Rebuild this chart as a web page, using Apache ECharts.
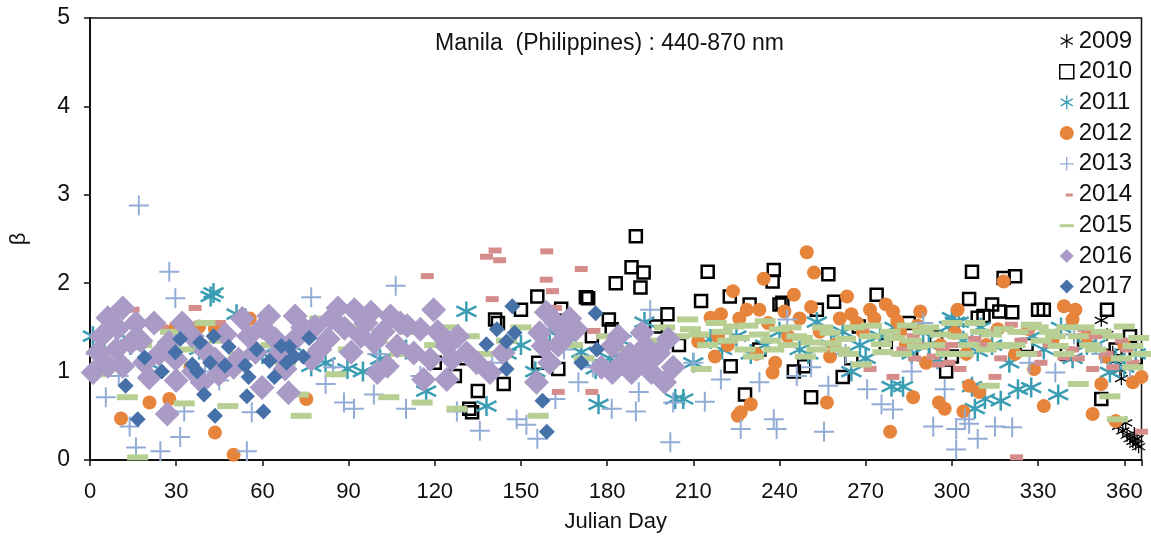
<!DOCTYPE html>
<html lang="en">

<head>
  <meta charset="utf-8">
  <title>Manila beta scatter</title>
  <style>
    html, body { margin: 0; padding: 0; background: #fff; }
    .box { width: 1151px; height: 538px; }
  </style>
</head>

<body>
  <script type="text/javascript" src="https://cdn.jsdelivr.net/npm/echarts@6/dist/echarts.min.js"></script>

  <div class="box"></div>

  <script>
    // [julian day, beta] per year
    var d2009 = [[352, 1.58], [354, 1.42], [356, 1.22], [357, 1.12], [358.5, 1.02], [359, 0.92],
      [358, 0.38], [359.5, 0.33], [361, 0.28], [362, 0.24], [363, 0.21], [364, 0.18], [365, 0.15], [364.5, 0.24], [363.5, 0.3], [360.5, 0.42]];

    var d2010 = [[131, 1.15], [132, 0.58], [133, 0.54], [135, 0.78], [144, 0.86], [141, 1.59], [142, 1.55], [150, 1.7],
      [155.7, 1.85], [156, 1.1], [163, 1.03], [164, 1.71], [172.6, 1.84], [173.4, 1.83], [174.7, 1.4], [180.6, 1.59],
      [181.6, 1.48], [183, 2.0], [188.5, 2.18], [190, 2.53], [191.6, 1.95], [192.7, 2.12], [197, 1.51], [201, 1.65],
      [212.7, 1.8], [215, 2.13], [222.7, 1.85], [223, 1.06], [228, 0.74], [229.6, 1.76], [237.6, 2.02], [238, 2.15],
      [240, 1.76], [241, 1.78], [248.6, 1.06], [251, 0.71], [253, 1.7], [257, 2.1], [259, 1.79], [262, 0.94],
      [267.6, 1.51], [273.8, 1.87], [285, 1.55], [294.5, 1.39], [300, 1.17], [306, 1.82], [307, 2.13], [309, 1.61],
      [311, 1.63], [314, 1.76], [316.5, 1.68], [318, 2.06], [321, 1.67], [322, 2.08], [330, 1.7], [332, 1.7],
      [352, 0.69], [354, 1.7], [362, 1.4], [120, 1.1], [127, 0.95], [205, 1.3], [233, 1.25], [245, 1.0], [265, 1.15],
      [277, 1.3], [290, 1.2], [298, 1.0], [326, 1.3], [340, 1.2], [346, 1.35], [357, 1.25], [364, 1.15]];

    var d2011 = [[1, 1.4], [9, 1.44], [42, 1.85], [43, 1.89], [51, 1.65], [77, 1.06], [89.6, 1.03], [101, 1.14],
      [117, 0.78], [131, 1.68], [138, 0.61], [171, 1.22], [176, 1.03], [177, 0.63], [193, 1.56], [203.7, 0.69],
      [206.5, 0.69], [216, 1.37], [253, 1.56], [265, 1.0], [279, 0.83], [283, 0.83], [290, 1.44], [295, 1.14],
      [299, 1.51], [300, 1.61], [301, 1.56], [302.4, 1.56], [307, 0.83], [308, 0.58], [309, 1.23], [311.5, 0.69],
      [317, 0.67], [323, 0.8], [327.6, 0.82], [337, 0.74], [355, 0.99], [5, 1.25], [14, 1.3], [20, 1.1], [30, 1.45],
      [38, 1.25], [60, 1.2], [70, 1.3], [82, 1.1], [95, 1.0], [110, 1.25], [125, 1.35], [145, 1.2], [150, 1.3],
      [160, 1.45], [185, 1.35], [210, 1.1], [220, 1.25], [230, 1.2], [240, 1.45], [247, 1.25], [258, 1.3],
      [270, 1.15], [275, 1.4], [286, 1.2], [314, 1.3], [320, 1.1], [332, 1.25], [342, 1.15], [347, 1.3],
      [360, 1.05], [364, 1.2], [225, 1.4], [235, 1.3], [250, 1.2], [262, 1.45], [268, 1.3], [280, 1.5], [292, 1.3],
      [304, 1.35], [310, 1.5], [328, 1.4], [338, 1.5], [350, 1.3], [357, 1.15], [166, 1.4], [181, 1.15], [155, 1.0],
      [195, 1.25]];

    var d2012 = [[10.8, 0.47], [20.7, 0.65], [27.6, 0.69], [29.7, 1.5], [38, 1.51], [43.5, 0.31], [43.5, 1.48],
      [50, 0.06], [55.6, 1.6], [75.3, 0.69], [25, 1.2], [35, 1.05], [211.7, 1.34], [216, 1.61], [217.5, 1.17],
      [218.6, 1.4], [219.6, 1.65], [223.8, 1.91], [225.5, 0.5], [226.5, 0.54], [228.6, 1.7], [230, 0.63],
      [233, 1.7], [234.5, 2.05], [237.6, 0.99], [238.5, 1.1], [241.7, 1.68], [245, 1.87], [249.5, 2.35], [251, 1.73],
      [252, 2.12], [256.5, 0.65], [257.6, 1.17], [263.5, 1.85], [265, 1.65], [271.5, 1.7], [277, 1.76], [278.5, 0.32],
      [279.5, 1.68], [281, 1.57], [286.5, 0.71], [289, 1.68], [295.5, 0.65], [297.5, 0.58], [301, 1.44], [302, 1.7],
      [304, 0.55], [306, 0.84], [309.5, 0.77], [316, 1.48], [318, 2.02], [326.6, 1.48], [328.6, 1.03], [332, 0.61],
      [339, 1.74], [342, 1.59], [343, 1.7], [349, 0.52], [352, 0.86], [353.5, 1.17], [357, 0.44], [363, 0.88],
      [366, 0.94], [222, 1.3], [232, 1.2], [243, 1.4], [259, 1.3], [269, 1.45], [284, 1.3], [291, 1.1], [312, 1.3],
      [322, 1.2], [335, 1.35], [347, 1.4], [360, 1.3], [226, 1.6], [236, 1.55], [247, 1.6], [254, 1.45], [261, 1.6],
      [267, 1.55], [273, 1.6], [282, 1.45], [288, 1.52], [296, 1.3], [305, 1.2]];

    var d2013 = [[5.5, 0.71], [13.8, 0.38], [16, 0.14], [17, 2.88], [24.5, 0.1], [27.6, 2.13], [29.7, 1.83],
      [31.4, 0.26], [32.8, 0.55], [54.6, 0.1], [56.3, 0.54], [77, 1.84], [82, 0.86], [84.6, 1.05], [88.4, 0.65],
      [91.9, 0.58], [98.8, 0.74], [106.4, 1.97], [110, 0.58], [127.7, 0.55], [135.7, 0.33], [148.5, 0.46],
      [151.9, 0.4], [155.7, 0.24], [162, 0.69], [170, 0.88], [181.6, 0.58], [190, 0.55], [191, 0.77], [195, 1.7],
      [202, 0.2], [203, 0.65], [214, 0.66], [219.6, 0.91], [226.5, 0.35], [233, 0.88], [238, 0.46], [239, 0.35],
      [242.7, 1.59], [246, 0.95], [255.5, 0.32], [257, 0.84], [270.5, 0.8], [275.5, 0.63], [279.5, 0.57], [290, 1.55],
      [293.5, 0.38], [297.5, 0.8], [301.5, 0.12], [301.5, 0.35], [304.5, 0.46], [306, 0.41], [309, 0.24],
      [315, 0.38], [321, 0.37], [336, 0.99], [342.5, 1.42], [2, 1.2], [10, 0.95], [40, 1.0], [45, 0.9], [65, 1.25],
      [100, 1.2], [115, 0.95], [140, 1.1], [165, 1.25], [175, 1.05], [185, 1.2], [210, 1.1], [251, 1.05],
      [263, 1.2], [286, 1.0], [327, 1.1], [352, 1.2], [362, 1.05]];

    var d2014 = [[15, 1.7], [25, 1.5], [36.6, 1.72], [45, 1.55], [57.3, 1.48], [117.4, 2.08], [138, 2.3], [140, 1.82],
      [141, 2.37], [142.6, 2.26], [158.8, 2.04], [159, 2.36], [161, 1.91], [162, 1.72], [163, 0.77], [171, 2.16],
      [174.7, 0.77], [175.4, 1.46], [269, 1.5], [271.5, 1.03], [279.5, 0.94], [286.5, 1.4], [293.5, 1.17],
      [295.3, 1.08], [299, 1.1], [302.8, 1.03], [308, 1.37], [315, 0.94], [320.7, 1.53], [322.5, 0.03], [339, 1.16],
      [346, 1.48], [349, 1.03], [366, 0.32], [283, 1.25], [289, 1.3], [297, 1.25], [305, 1.2], [311, 1.3],
      [317, 1.15], [324, 1.35], [329, 1.2], [334, 1.3], [342, 1.25], [354, 1.2], [359, 1.35], [363, 1.1],
      [287, 1.15], [300, 1.3], [313, 1.45], [319, 1.3], [326, 1.45], [331, 1.1], [336, 1.4], [344, 1.15],
      [350, 1.4], [356, 1.05], [361, 1.25]];

    var d2015 = [[2, 0.97], [13, 0.71], [16.6, 0.03], [32.8, 0.64], [48, 0.61], [72.5, 0.74], [73.5, 0.5],
      [85.6, 0.97], [104, 0.71], [115.6, 0.65], [127.7, 0.58], [156, 0.5], [5, 1.25], [8, 1.1], [18, 1.3],
      [22, 1.15], [28, 1.45], [33, 1.25], [40, 1.55], [45, 1.35], [52, 1.2], [58, 1.45], [63, 1.3], [68, 1.1],
      [75, 1.4], [80, 1.6], [90, 1.25], [95, 1.5], [100, 1.35], [108, 1.2], [112, 1.45], [120, 1.3], [125, 1.5],
      [132, 1.4], [137, 1.2], [145, 1.35], [150, 1.5], [168, 1.3], [172, 1.15], [180, 1.4], [188, 1.25],
      [195, 1.35], [200, 1.5], [205, 1.4], [208, 1.59], [209, 1.48], [212.7, 1.03], [215, 1.3], [218, 1.55],
      [220, 1.45], [224, 1.51], [226, 1.38], [228, 1.25], [231, 1.17], [235, 1.57], [237, 1.35], [240, 1.48],
      [243, 1.3], [246, 1.4], [249, 1.17], [251, 1.33], [253, 1.25], [255, 1.5], [257.6, 1.44], [261, 1.25],
      [263, 1.37], [266, 1.5], [268.5, 1.08], [271.5, 1.4], [275.5, 1.31], [278.5, 1.45], [282.5, 1.2],
      [284.5, 1.52], [286, 1.35], [290, 1.45], [294, 1.3], [298, 1.2], [300, 1.55], [302, 1.4], [306, 1.3],
      [310, 1.45], [313.8, 1.42], [313, 0.84], [316, 1.3], [319.7, 1.29], [323, 1.45], [327.6, 1.53], [331, 1.35],
      [334, 1.45], [337, 1.29], [340, 1.5], [344, 1.4], [344, 0.86], [348, 1.3], [352, 1.45], [355, 0.72],
      [357.6, 0.46], [360, 1.51], [363, 1.29], [363, 1.05], [366, 1.2], [212, 1.42], [222, 1.35], [229, 1.52],
      [233, 1.42], [238, 1.25], [244, 1.5], [248, 1.38], [258, 1.32], [264, 1.2], [272, 1.52], [276, 1.22],
      [280, 1.38], [288, 1.28], [292, 1.5], [296, 1.42], [304, 1.2], [308, 1.55], [312, 1.25], [318, 1.48],
      [322, 1.3], [326, 1.2], [330, 1.5], [336, 1.4], [339, 1.2], [346, 1.5], [350, 1.25], [356, 1.4],
      [359, 1.15], [365, 1.38]];

    var d2016 = [[1.1, 0.99], [2.8, 1.22], [6.2, 1.61], [11.4, 1.72], [9.7, 1.49], [16, 1.55], [22.3, 1.55],
      [17.7, 1.35], [14.3, 1.33], [9.1, 1.25], [6.2, 1.06], [11.4, 1.06], [20.6, 0.93], [26.9, 0.52], [29.8, 1.14],
      [32.1, 1.55], [35.6, 1.4], [27.5, 1.33], [24, 1.2], [39, 0.88], [44.8, 0.97], [47.1, 1.42], [51.7, 1.14],
      [50, 1.05], [62.2, 1.63], [64.5, 1.37], [59.9, 0.82], [57.6, 1.22], [71.4, 1.63], [78.3, 1.51], [71.4, 1.37],
      [69.1, 0.76], [77.1, 1.14], [86.3, 1.72], [88.6, 1.49], [92, 1.7], [97.8, 1.67], [94.3, 1.4], [98.9, 1.33],
      [100, 0.99], [90.9, 1.22], [82.9, 1.37], [67.9, 1.03], [43.6, 1.14], [40.2, 1.23], [55.2, 1.4],
      [104.6, 1.63], [110.4, 1.52], [115, 1.48], [106.9, 1.29], [112.7, 1.21], [119.6, 1.7], [118.4, 1.14],
      [124.2, 1.29], [126, 1.14], [131.1, 1.21], [134.6, 1.1], [116.1, 0.91], [124.2, 0.91], [139.2, 0.99],
      [143.8, 1.21], [155.4, 0.88], [158.8, 1.67], [162.2, 1.55], [165.7, 1.4], [156.5, 1.44], [157.7, 1.29],
      [169.2, 1.48], [181.8, 1.29], [185.3, 1.1], [181.8, 0.99], [192.2, 1.44], [193.4, 1.29], [198, 1.21],
      [190.8, 1.1], [195.4, 0.99], [200, 0.88], [201.3, 1.37], [188.5, 0.99], [103.5, 1.06], [4, 1.4], [19, 1.1],
      [30, 0.9], [36, 1.0], [53, 1.6], [60, 1.5], [66, 1.2], [74, 1.5], [80, 1.25], [84, 1.6], [96, 1.55],
      [102, 1.45], [108, 1.55], [121, 1.45], [128, 1.4], [160, 1.1], [163, 1.3], [167, 1.6], [178, 1.05],
      [184, 1.4], [188, 1.2], [196, 1.15], [203, 1.05]];

    var d2017 = [[12.4, 0.84], [16.6, 0.46], [19, 1.16], [25, 1.0], [29.7, 1.22], [31.4, 1.37], [35.6, 1.08],
      [37.3, 1.0], [38.3, 1.33], [39.7, 0.74], [41.8, 1.1], [43, 1.4], [43.5, 0.5], [47, 1.07], [48.3, 1.28],
      [54, 1.07], [54.6, 0.72], [55.2, 0.94], [58, 1.25], [60.4, 0.55], [62.5, 1.12], [64.2, 0.94], [66.6, 1.29],
      [68.4, 1.1], [69.4, 1.28], [71.1, 1.17], [74.2, 1.17], [76.3, 1.38], [138, 1.31], [141.6, 1.48], [145, 1.34],
      [145, 1.03], [147, 1.74], [147.8, 1.44], [157.5, 0.67], [159, 0.32], [171, 1.1], [176, 1.66], [176.4, 1.25]];

    var years = ['2009', '2010', '2011', '2012', '2013', '2014', '2015', '2016', '2017'];
    var xTicks = [0, 30, 60, 90, 120, 150, 180, 210, 240, 270, 300, 330, 360];

    var STAR = 'path://M10,0L10,20M1.34,5L18.66,15M1.34,15L18.66,5';
    var PLUS = 'path://M0,10L20,10M10,0L10,20';
    var font = 'Liberation Sans';

    var box = document.querySelector('.box');
    var myChart = echarts.init(box);

    // one helper per marker look
    function strokeSeries(name, data, symbol, size, color, width) {
      return {
        name: name, type: 'scatter', data: data, symbol: symbol, symbolSize: size,
        itemStyle: { color: 'rgba(0,0,0,0)', borderColor: color, borderWidth: width, opacity: 1 },
        emphasis: { disabled: true }
      };
    }
    function fillSeries(name, data, symbol, size, color) {
      return {
        name: name, type: 'scatter', data: data, symbol: symbol, symbolSize: size,
        itemStyle: { color: color, opacity: 1 },
        emphasis: { disabled: true }
      };
    }

    var option = {
      animation: false,
      title: {
        text: 'Manila  (Philippines) : 440-870 nm',
        left: 430,
        top: 27,
        textStyle: { fontFamily: font, fontSize: 23, fontWeight: 'normal', color: '#111' }
      },
      legend: {
        orient: 'vertical',
        left: 1054,
        top: 24,
        itemWidth: 14,
        itemHeight: 14,
        itemGap: 6.7,
        textStyle: { fontFamily: font, fontSize: 24, lineHeight: 24, color: '#111' },
        data: [
          { name: '2009', icon: STAR, itemStyle: { color: 'rgba(0,0,0,0)', borderColor: '#000', borderWidth: 1.2 } },
          { name: '2010', icon: 'path://M0,0L10,0L10,10L0,10Z', itemStyle: { color: 'rgba(0,0,0,0)', borderColor: '#000', borderWidth: 1.5 } },
          { name: '2011', icon: STAR, itemStyle: { color: 'rgba(0,0,0,0)', borderColor: '#3b9db3', borderWidth: 1.3 } },
          { name: '2012', icon: 'circle', itemStyle: { color: '#e5843a' } },
          { name: '2013', icon: PLUS, itemStyle: { color: 'rgba(0,0,0,0)', borderColor: '#93acd6', borderWidth: 1.3 } },
          { name: '2014', icon: 'path://M0,0M6,6L13,6L13,9L6,9ZM14,14', itemStyle: { color: '#d58d8b' } },
          { name: '2015', icon: 'path://M0,0M0,6L14,6L14,9L0,9ZM14,14', itemStyle: { color: '#b8cf94' } },
          { name: '2016', icon: 'diamond', itemStyle: { color: '#a99bc6' } },
          { name: '2017', icon: 'diamond', itemStyle: { color: '#4670a8' } }
        ]
      },
      grid: {
        left: 87, right: 9.5, top: 18, bottom: 77,
        show: true, borderColor: '#111', borderWidth: 1.5
      },
      xAxis: {
        type: 'value',
        min: 0, max: 366, interval: 30,
        name: 'Julian Day',
        nameLocation: 'middle',
        nameGap: 51,
        nameTextStyle: { fontFamily: font, fontSize: 22, color: '#111' },
        axisLine: { onZero: false, lineStyle: { color: '#111', width: 2 } },
        axisTick: { length: 6, lineStyle: { color: '#111', width: 1.5 } },
        axisLabel: {
          margin: 21, fontFamily: font, fontSize: 22, color: '#111',
          formatter: function (v) { return xTicks.indexOf(v) > -1 ? String(v) : ''; }
        },
        splitLine: { show: false }
      },
      yAxis: {
        type: 'value',
        min: 0, max: 5, interval: 1,
        name: 'β',
        nameLocation: 'middle',
        nameGap: 60,
        nameTextStyle: { fontFamily: font, fontSize: 22, color: '#111' },
        axisLine: { onZero: false, lineStyle: { color: '#111', width: 2 } },
        axisTick: { length: 6, lineStyle: { color: '#111', width: 1.5 } },
        axisLabel: { margin: 20, fontFamily: font, fontSize: 23, color: '#111' },
        splitLine: { show: false }
      },
      series: [
        strokeSeries(years[0], d2009, STAR, 13, '#000', 1.3),
        strokeSeries(years[1], d2010, 'rect', 12, '#000', 2.5),
        strokeSeries(years[2], d2011, STAR, 20, '#3b9db3', 2.5),
        fillSeries(years[3], d2012, 'circle', 14, '#e5843a'),
        strokeSeries(years[4], d2013, PLUS, 20, '#93acd6', 2),
        fillSeries(years[5], d2014, 'rect', [13, 6], '#d58d8b'),
        fillSeries(years[6], d2015, 'rect', [21, 6], '#b8cf94'),
        fillSeries(years[7], d2016, 'diamond', 25, '#a99bc6'),
        fillSeries(years[8], d2017, 'diamond', 16, '#4670a8')
      ]
    };
    myChart.setOption(option);
  </script>

</body>

</html>
